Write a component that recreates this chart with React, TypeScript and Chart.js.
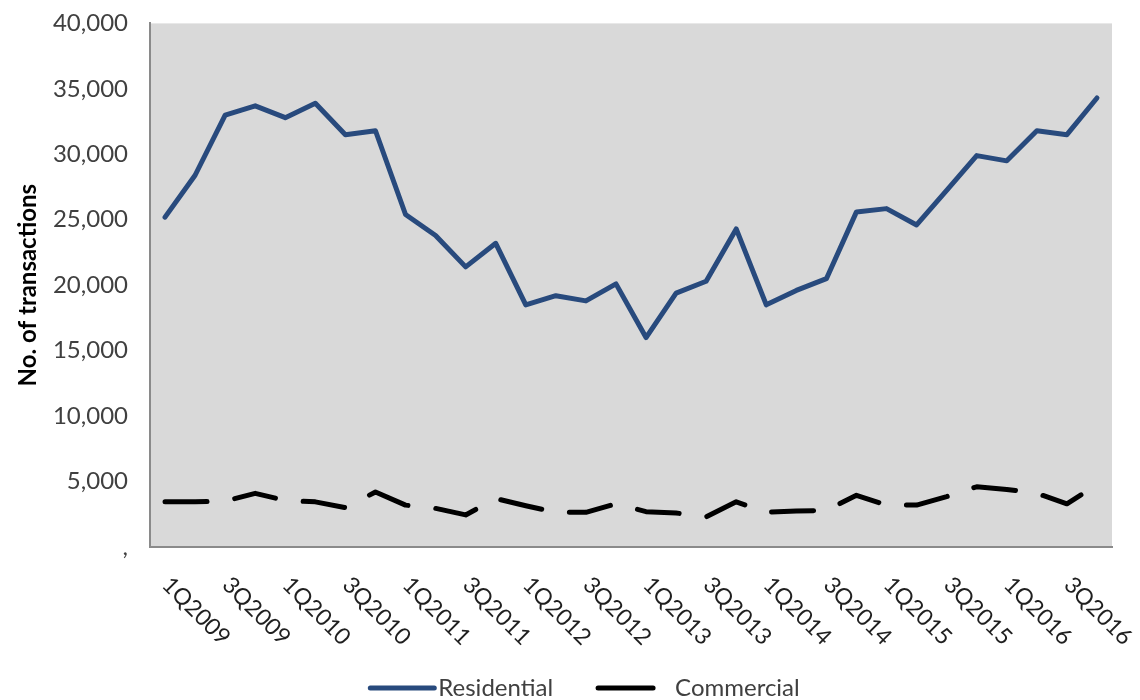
import { useEffect, useRef } from "react";
import { Chart, registerables } from "chart.js";

Chart.register(...registerables);

// Quarterly transaction counts, 1Q2009 – 4Q2016
const quarters = [
  "1Q2009", "2Q2009", "3Q2009", "4Q2009",
  "1Q2010", "2Q2010", "3Q2010", "4Q2010",
  "1Q2011", "2Q2011", "3Q2011", "4Q2011",
  "1Q2012", "2Q2012", "3Q2012", "4Q2012",
  "1Q2013", "2Q2013", "3Q2013", "4Q2013",
  "1Q2014", "2Q2014", "3Q2014", "4Q2014",
  "1Q2015", "2Q2015", "3Q2015", "4Q2015",
  "1Q2016", "2Q2016", "3Q2016", "4Q2016",
];

const residential = [
  25200, 28400, 33000, 33700,
  32800, 33900, 31500, 31800,
  25400, 23800, 21400, 23200,
  18500, 19200, 18800, 20100,
  16000, 19400, 20300, 24300,
  18500, 19600, 20500, 25600,
  25850, 24600, 27250, 29900,
  29500, 31800, 31500, 34300,
];

const commercial = [
  3450, 3450, 3500, 4100,
  3550, 3450, 3000, 4200,
  3200, 2950, 2450, 3700,
  3150, 2650, 2650, 3300,
  2700, 2600, 2300, 3450,
  2650, 2750, 2800, 3950,
  3200, 3200, 3850, 4600,
  4400, 4100, 3300, 4750,
];

const seriesNames = ["Residential", "Commercial"];
const yAxisTitle = "No. of transactions";
const yMin = 0;
const yMax = 40000;
const yStep = 5000;

const FONT = "Lato, 'Open Sans', sans-serif";

// Grey plot-area fill behind the lines
const plotBackground = {
  id: "plotBackground",
  beforeDraw(chart: any) {
    const { ctx, chartArea: a } = chart;
    ctx.save();
    ctx.fillStyle = "#d9d9d9";
    ctx.fillRect(a.left, a.top, a.right - a.left, a.bottom - a.top);
    ctx.restore();
  },
};

// Every other quarter, slanted downwards to the right from its tick
const slantedQuarterLabels = {
  id: "slantedQuarterLabels",
  afterDraw(chart: any) {
    const xScale = chart.scales.x;
    const ctx = chart.ctx;
    ctx.save();
    ctx.font = `23px ${FONT}`;
    ctx.fillStyle = "#1f1f1f";
    ctx.textAlign = "left";
    ctx.textBaseline = "middle";
    quarters.forEach((q, i) => {
      if (i % 2 !== 0) return;
      const px = xScale.getPixelForTick(i);
      ctx.save();
      ctx.translate(px + 1, xScale.top + 34);
      ctx.rotate(Math.PI / 4);
      ctx.fillText(q, 0, 0);
      ctx.restore();
    });
    ctx.restore();
  },
};

// Legend row along the bottom edge
const bottomLegend = {
  id: "bottomLegend",
  afterDraw(chart: any) {
    const ctx = chart.ctx;
    const cy = 688;
    const centerX = 585;
    const sample = 64;
    const textGap = 4;
    const dashedGap = 16;
    const itemGap = 42;
    ctx.save();
    ctx.font = `24px ${FONT}`;
    const items = chart.data.datasets.map((ds: any) => ({
      ds,
      w: ctx.measureText(ds.label).width,
    }));
    const total =
      items.reduce(
        (s: number, it: any) =>
          s + sample + (it.ds.borderDash ? dashedGap : textGap) + it.w,
        0
      ) +
      itemGap * (items.length - 1);
    let x = centerX - total / 2;
    items.forEach((it: any) => {
      const ds = it.ds;
      const dashed = Array.isArray(ds.borderDash) && ds.borderDash.length > 0;
      ctx.save();
      ctx.strokeStyle = ds.borderColor;
      ctx.lineWidth = ds.borderWidth;
      ctx.lineCap = "round";
      ctx.beginPath();
      if (dashed) {
        // a single dash stands for the dashed series
        ctx.moveTo(x + 3, cy);
        ctx.lineTo(x + 58, cy);
      } else {
        ctx.moveTo(x, cy);
        ctx.lineTo(x + sample, cy);
      }
      ctx.stroke();
      ctx.restore();
      const tx = x + sample + (dashed ? dashedGap : textGap);
      ctx.fillStyle = "#404040";
      ctx.textAlign = "left";
      ctx.textBaseline = "middle";
      ctx.fillText(ds.label, tx, cy);
      x = tx + it.w + itemGap;
    });
    ctx.restore();
  },
};

export default function App() {
  const canvasRef = useRef<HTMLCanvasElement | null>(null);

  useEffect(() => {
    const canvas = canvasRef.current;
    if (!canvas) return;
    const chart = new Chart(canvas, {
      type: "line",
      data: {
        labels: quarters,
        datasets: [
          {
            label: seriesNames[0],
            data: residential,
            borderColor: "#284a7d",
            borderWidth: 5,
            pointRadius: 0,
            tension: 0,
            fill: false,
            borderJoinStyle: "round",
            borderCapStyle: "round",
          },
          {
            label: seriesNames[1],
            data: commercial,
            borderColor: "#000000",
            borderWidth: 5,
            borderDash: [42, 28],
            pointRadius: 0,
            tension: 0,
            fill: false,
            borderJoinStyle: "round",
            borderCapStyle: "round",
          },
        ],
      },
      options: {
        animation: false,
        responsive: false,
        maintainAspectRatio: false,
        // top edge comes from the top tick label's half-height plus its padding
        layout: { padding: { top: 0, right: 28, left: 0, bottom: 0 } },
        plugins: {
          legend: { display: false },
          tooltip: { enabled: false },
        },
        scales: {
          x: {
            offset: true,
            grid: { display: false, drawTicks: false },
            border: { display: true, color: "#8a8a8a", width: 2 },
            ticks: { display: false },
            afterFit(scale: any) {
              scale.height = 153;
            },
          },
          y: {
            min: yMin,
            max: yMax,
            // tick marks are not drawn (grid hidden); their length only spaces the labels
            grid: { display: false, drawTicks: true, tickLength: 13 },
            border: { display: true, color: "#8a8a8a", width: 2 },
            ticks: {
              stepSize: yStep,
              padding: 9,
              color: "#404040",
              font: { family: FONT, size: 24 },
              callback: (v: any) =>
                Number(v) === 0 ? "," : Number(v).toLocaleString("en-US"),
            },
            title: {
              display: true,
              text: yAxisTitle,
              color: "#000000",
              font: { family: FONT, size: 24, weight: "bold" },
              padding: { top: 14, bottom: 0 },
            },
            afterFit(scale: any) {
              scale.width = 150;
            },
          },
        },
      },
      plugins: [plotBackground, slantedQuarterLabels, bottomLegend],
    });
    return () => chart.destroy();
  }, []);

  return (
    <div
      style={{
        position: "fixed",
        left: 0,
        top: 0,
        width: 1140,
        height: 700,
        background: "#ffffff",
      }}
    >
      <canvas
        ref={canvasRef}
        width={1140}
        height={700}
        style={{ display: "block", width: 1140, height: 700 }}
      />
    </div>
  );
}
